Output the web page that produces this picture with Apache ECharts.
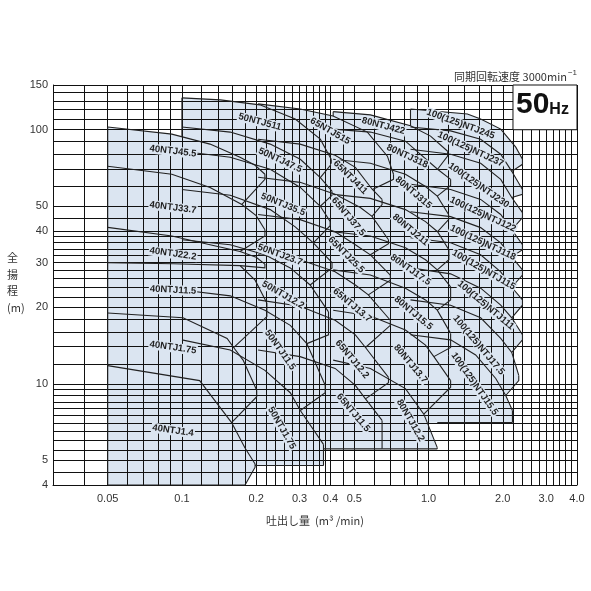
<!DOCTYPE html>
<html>
<head>
<meta charset="utf-8">
<script src="https://cdn.jsdelivr.net/npm/echarts@6/dist/echarts.min.js"></script>
<style>
  html, body { margin: 0; padding: 0; background: #fff; }
  #chart { width: 591px; height: 591px; }
</style>
</head>
<body>
<div id="chart"></div>
<script>
// grid lines and tick labels
const xGridValues = [0.03, 0.04, 0.05, 0.06, 0.07, 0.08, 0.09, 0.1, 0.12, 0.14, 0.16, 0.18, 0.2,
  0.22, 0.24, 0.26, 0.28, 0.3, 0.32, 0.34, 0.36, 0.38, 0.4, 0.45, 0.5, 0.6, 0.7, 0.8, 0.9, 1.0,
  1.2, 1.4, 1.6, 1.8, 2.0, 2.2, 2.4, 2.6, 2.8, 3.0, 3.2, 3.4, 3.6, 3.8, 4.0];
const yGridValues = [4, 4.5, 5, 5.5, 6, 6.5, 7, 7.5, 8, 8.5, 9, 9.5, 10, 12, 14, 16, 18, 20, 22, 24,
  26, 28, 30, 32, 34, 36, 38, 40, 45, 50, 60, 70, 80, 90, 100, 110, 120, 130, 140, 150];
const xTickLabels = [0.05, 0.1, 0.2, 0.3, 0.4, 0.5, 1.0, 2.0, 3.0, 4.0];
const yTickLabels = [4, 5, 10, 20, 30, 40, 50, 100, 150];

// 40NTJ : head curves [Q m3/min, H m], right limit lines, labels [name, Q, H, angle]
const curves40 = [
  [[0.05, 102.5], [0.091, 96.1], [0.13, 87.8], [0.172, 78], [0.198, 72.5], [0.217, 66.8]],
  [[0.05, 71.8], [0.091, 66.8], [0.13, 59.3], [0.175, 50.8], [0.2, 45.9], [0.217, 40.4]],
  [[0.05, 41.3], [0.091, 38.2], [0.13, 35.3], [0.172, 33.2], [0.2, 31.5], [0.217, 29.6]],
  [[0.05, 30], [0.092, 29.7], [0.172, 29.2], [0.198, 25.6], [0.221, 20.8]],
  [[0.05, 19], [0.101, 18.2], [0.1525, 15.1], [0.162, 13.9], [0.177, 12.4], [0.201, 9.43]],
  [[0.05, 11.8], [0.118, 10.3], [0.159, 7.04], [0.18, 5.61], [0.198, 4.84]]
];
const limits40 = [
  [[0.217, 63.8], [0.175, 50.8]],
  [[0.217, 38.2], [0.172, 33.2]],
  [[0.217, 28.6], [0.172, 29.2]],
  [[0.221, 18.4], [0.162, 13.9]],
  [[0.201, 8.9], [0.159, 7.04]],
  [[0.198, 4.7], [0.1803, 4]]
];
const labels40 = [
  ['40NTJ45.5', 0.092, 82.3, 7], ['40NTJ33.7', 0.092, 49.4, 7], ['40NTJ22.2', 0.092, 32.5, 8],
  ['40NTJ11.5', 0.092, 23.4, 3], ['40NTJ1.75', 0.092, 13.9, 8], ['40NTJ1.4', 0.092, 6.55, 8]
];

// 50NTJ
const curves50 = [
  [[0.1, 133.5], [0.143, 131.1], [0.207, 125.3], [0.288, 110.2], [0.364, 91.8], [0.403, 76.5]],
  [[0.1, 102.5], [0.157, 97.9], [0.228, 87.8], [0.302, 76.5], [0.364, 64.8], [0.406, 57.3]],
  [[0.1, 82.3], [0.157, 77.9], [0.228, 69.9], [0.302, 59.3], [0.364, 50], [0.399, 43.6]],
  [[0.1, 58.2], [0.157, 55.2], [0.228, 48.5], [0.288, 41.5], [0.341, 35.9], [0.406, 30]],
  [[0.1, 36.9], [0.157, 35.3], [0.217, 32.2], [0.275, 28.6], [0.331, 24.5], [0.393, 19.2]],
  [[0.1, 23.4], [0.157, 22.2], [0.217, 19.5], [0.275, 17], [0.321, 14.4], [0.381, 9.87]],
  [[0.1, 14.9], [0.157, 13.6], [0.217, 11.3], [0.275, 9.23], [0.302, 7.86], [0.375, 5.78]]
];
const limits50 = [
  [[0.403, 73.1], [0.364, 64.8]],
  [[0.406, 55.2], [0.364, 50]],
  [[0.399, 41.9], [0.341, 35.9]],
  [[0.406, 28.6], [0.331, 24.5]],
  [[0.393, 15.6], [0.321, 14.4]],
  [[0.381, 9.23], [0.302, 7.86]],
  [[0.375, 4.77]]
];
const labels50 = [
  ['50NTJ511', 0.207, 107.3, 15], ['50NTJ47.5', 0.25, 75.9, 25], ['50NTJ35.5', 0.257, 50.8, 22],
  ['50NTJ23.7', 0.25, 32.2, 20], ['50NTJ12.2', 0.257, 22.4, 30], ['50NTJ11.5', 0.25, 13.6, 55],
  ['50NTJ1.75', 0.254, 6.7, 60]
];

// 65NTJ
const curves65 = [
  [[0.2036, 126.4], [0.3015, 120.7], [0.41, 113.3], [0.565, 97.9], [0.681, 78.7], [0.721, 66.8]],
  [[0.2036, 91.8], [0.3015, 87.8], [0.418, 79.4], [0.505, 71.1], [0.592, 58.2], [0.648, 53.2]],
  [[0.2036, 65], [0.3015, 62.1], [0.418, 55.7], [0.529, 49.4], [0.59, 45.6], [0.688, 36.9]],
  [[0.2036, 46.4], [0.3015, 44.3], [0.418, 39.7], [0.505, 35.3], [0.581, 32.2], [0.7, 26.8]],
  [[0.2036, 32.2], [0.3015, 30.8], [0.418, 27.6], [0.505, 24.5], [0.57, 22.4], [0.7, 17.8]],
  [[0.2036, 21.4], [0.3015, 20.2], [0.418, 17.8], [0.505, 15.6], [0.555, 13.9], [0.688, 10.6]],
  [[0.2036, 13.6], [0.3015, 12.8], [0.418, 11.5], [0.505, 9.87], [0.555, 8.73], [0.648, 7.18]]
];
const limits65 = [
  [[0.721, 63.8], [0.592, 58.2]],
  [[0.648, 50.8], [0.59, 45.6]],
  [[0.688, 35.6], [0.581, 32.2]],
  [[0.7, 25.6], [0.57, 22.4]],
  [[0.7, 17], [0.555, 13.9]],
  [[0.688, 10.1], [0.555, 8.73]],
  [[0.648, 5.55]]
];
const labels65 = [
  ['65NTJ515', 0.399, 98.8, 30], ['65NTJ411', 0.482, 65, 45], ['65NTJ37.5', 0.473, 45.5, 50],
  ['65NTJ25.5', 0.464, 32.2, 45], ['65NTJ13.7', 0.49, 20.4, 40], ['65NTJ12.2', 0.49, 12.5, 50],
  ['65NTJ11.5', 0.495, 7.7, 50]
];

// 80NTJ
const curves80 = [
  [[0.4105, 117.8], [0.581, 114.4], [0.845, 103.7], [1.019, 94.4], [1.195, 82.3]],
  [[0.4105, 100.6], [0.581, 97.9], [0.806, 90.2], [1.088, 69.9], [1.229, 63.8]],
  [[0.4105, 76.5], [0.581, 73.8], [0.806, 66.8], [0.972, 59.8], [1.085, 54.8], [1.206, 46.4]],
  [[0.4105, 55.7], [0.581, 53.7], [0.806, 48.5], [0.972, 43.5], [1.088, 39.7], [1.209, 33.7]],
  [[0.4105, 39.7], [0.581, 38.2], [0.806, 34.3], [0.972, 30.8], [1.085, 28.1], [1.229, 24.1]],
  [[0.4105, 28.1], [0.581, 26.8], [0.806, 23.8], [0.972, 21.4], [1.085, 19.5], [1.229, 15.8]],
  [[0.4105, 19.5], [0.581, 18.5], [0.806, 16.3], [0.972, 14.2], [1.051, 12.8], [1.229, 10.3]],
  [[0.4105, 12.4], [0.581, 11.5], [0.806, 9.58], [0.957, 7.6], [1.085, 5.61]]
];
const limits80 = [
  [[1.195, 78.7], [1.088, 69.9]],
  [[1.229, 60.4], [1.085, 54.8]],
  [[1.206, 44.3], [1.088, 39.7]],
  [[1.209, 30.8], [1.085, 28.1]],
  [[1.229, 21.4], [1.085, 19.5]],
  [[1.229, 13.9], [1.051, 12.8]],
  [[1.229, 9.7], [0.957, 7.6]],
  [[1.085, 5.55]]
];
const labels80 = [
  ['80NTJ422', 0.656, 103.5, 15], ['80NTJ318', 0.82, 78.7, 25], ['80NTJ315', 0.868, 56.6, 40],
  ['80NTJ211', 0.845, 40.4, 40], ['80NTJ17.5', 0.845, 28.1, 35], ['80NTJ15.5', 0.868, 19, 40],
  ['80NTJ13.7', 0.845, 12, 50], ['80NTJ12.2', 0.845, 7.18, 60]
];

// 100(125)NTJ
const curves100 = [
  [[0.845, 120.7], [1.437, 115.4], [1.627, 110.2], [1.962, 100.6], [2.258, 85.4], [2.404, 76.5]],
  [[0.845, 102.5], [1.229, 99], [1.627, 91.8], [1.962, 80.1], [2.175, 68.6], [2.404, 58.2]],
  [[0.845, 83.8], [1.229, 80.1], [1.627, 73.8], [1.962, 63.8], [2.175, 54.1], [2.404, 47.2]],
  [[0.845, 61], [1.229, 58.2], [1.627, 53.2], [1.962, 46.4], [2.175, 40.4], [2.404, 35.3]],
  [[0.845, 47.6], [1.229, 45.5], [1.627, 41.2], [1.962, 35.9], [2.175, 31.6], [2.404, 28.1]],
  [[0.845, 37.6], [1.229, 35.9], [1.627, 32.2], [1.962, 27.6], [2.175, 24], [2.404, 21.4]],
  [[0.845, 28.6], [1.229, 27.1], [1.627, 23.8], [1.962, 20.4], [2.175, 18.2], [2.404, 15.6]],
  [[0.845, 21.4], [1.229, 20.4], [1.627, 18.2], [1.962, 15.1], [2.175, 13.3], [2.322, 10.8]],
  [[0.845, 15.6], [1.229, 14.9], [1.553, 13], [1.873, 10.5], [2.056, 9], [2.189, 7.86]]
];
const limits100 = [
  [[2.404, 73.1], [2.175, 68.6]],
  [[2.404, 55.7], [2.175, 54.1]],
  [[2.404, 45.1], [2.175, 40.4]],
  [[2.404, 33.7], [2.175, 31.6]],
  [[2.404, 26.8], [2.175, 24]],
  [[2.404, 20.4], [2.175, 18.2]],
  [[2.404, 14.9], [2.175, 13.3]],
  [[2.322, 10.3], [2.056, 9]],
  [[2.189, 7.04]]
];
const labels100 = [
  ['100(125)NTJ245', 1.349, 105.3, 20], ['100(125)NTJ237', 1.482, 83.8, 25], ['100(125)NTJ230', 1.597, 60.4, 35],
  ['100(125)NTJ122', 1.66, 46.4, 25], ['100(125)NTJ118', 1.66, 35.9, 25], ['100(125)NTJ115', 1.673, 28.1, 30],
  ['100(125)NTJ111', 1.705, 20.4, 40], ['100(125)NTJ17.5', 1.597, 14.2, 50], ['100(125)NTJ15.5', 1.537, 10, 55]
];

// bottom head of each family, lowest head of its visible left edge, start of its visible bottom edge
const families = [
  { curves: curves40, limits: limits40, bottom: 4, edgeTo: 4, bottomFrom: 0.05 },
  { curves: curves50, limits: limits50, bottom: 4.77, edgeTo: 94, bottomFrom: 0.198 },
  { curves: curves65, limits: limits65, bottom: 5.55, edgeTo: 125, bottomFrom: 0.375 },
  { curves: curves80, limits: limits80, bottom: 5.55, edgeTo: 113.3, bottomFrom: 0.648 },
  { curves: curves100, limits: limits100, bottom: 7.04, edgeTo: 103.7, bottomFrom: 1.085 }
];
const allLabels = [].concat(labels40, labels50, labels65, labels80, labels100);

// build region polygons and outline polylines from the curves
const regions = [];
const outlines = [];
families.forEach(function (fam) {
  const cs = fam.curves;
  const q0 = cs[0][0][0];
  cs.forEach(function (c, k) {
    const lim = fam.limits[k];
    const join = lim[lim.length - 1];
    const lower = k + 1 < cs.length ? cs[k + 1] : [[c[0][0], fam.bottom]];
    const part = lower.filter(function (p) { return p[0] < join[0] - 1e-9; }).reverse();
    regions.push(c.concat(lim, part));
    outlines.push(c);
    outlines.push([c[c.length - 1]].concat(lim));
  });
  const last = fam.limits[fam.limits.length - 1];
  outlines.push([[q0, cs[0][0][1]], [q0, fam.edgeTo]]);
  outlines.push([[fam.bottomFrom, fam.bottom], last[last.length - 1]]);
});

const chart = echarts.init(document.getElementById('chart'), null, { renderer: 'canvas' });
const FILL = '#dbe5f1';

function polyItem(list, fill) {
  return function (params, api) {
    const pts = list[api.value(2)].map(function (p) { return api.coord(p); });
    if (fill) {
      return { type: 'polygon', shape: { points: pts }, style: { fill: FILL, stroke: FILL, lineWidth: 0.5 } };
    }
    return { type: 'polyline', shape: { points: pts }, style: { stroke: '#222', lineWidth: 1.1, fill: null } };
  };
}

const option = {
  animation: false,
  grid: { left: 53, top: 85, width: 524, height: 400 },
  xAxis: {
    type: 'log', logBase: 10, min: 0.03, max: 4, z: 3,
    axisLine: { show: true, lineStyle: { color: '#111', width: 1 } },
    axisTick: { show: false, customValues: xGridValues },
    splitLine: { show: true, lineStyle: { color: '#111', width: 1 } },
    axisLabel: {
      customValues: xTickLabels, color: '#333', fontSize: 11, margin: 8,
      fontFamily: 'Liberation Sans',
      formatter: function (v) { return v >= 1 ? v.toFixed(1) : String(v); }
    },
    name: '吐出し量  (m³ /min)', nameLocation: 'middle', nameGap: 30,
    nameTextStyle: { color: '#333', fontSize: 11, fontFamily: 'Noto Sans CJK JP' }
  },
  yAxis: {
    type: 'log', logBase: 10, min: 4, max: 150, z: 3,
    axisLine: { show: true, lineStyle: { color: '#111', width: 1 } },
    axisTick: { show: false, customValues: yGridValues },
    splitLine: { show: true, lineStyle: { color: '#111', width: 1 } },
    axisLabel: { customValues: yTickLabels, color: '#333', fontSize: 11, margin: 5, fontFamily: 'Liberation Sans' }
  },
  series: [
    {
      type: 'custom', name: 'regions', z: 1, silent: true,
      data: regions.map(function (r, i) { return [r[0][0], r[0][1], i]; }),
      renderItem: polyItem(regions, true)
    },
    {
      type: 'custom', name: 'outlines', z: 5, silent: true,
      data: outlines.map(function (r, i) { return [r[0][0], r[0][1], i]; }),
      renderItem: polyItem(outlines, false)
    },
    {
      type: 'custom', name: 'labels', z: 6, silent: true,
      data: allLabels.map(function (l) { return [l[1], l[2], l[3]]; }),
      renderItem: function (params, api) {
        const p = api.coord([api.value(0), api.value(1)]);
        return {
          type: 'text', x: p[0], y: p[1], rotation: -api.value(2) * Math.PI / 180,
          style: {
            text: allLabels[params.dataIndex][0], fill: '#1e1e1e',
            font: 'bold 9.5px "Liberation Sans"', align: 'center', verticalAlign: 'middle',
            backgroundColor: FILL, padding: [0, 1]
          }
        };
      }
    }
  ]
};
chart.setOption(option);

// 50Hz box, speed note and vertical axis title
const boxA = chart.convertToPixel({ gridIndex: 0 }, [2.2, 150]);
const boxB = chart.convertToPixel({ gridIndex: 0 }, [4.0, 100]);
chart.setOption({
  graphic: [
    {
      type: 'rect', z: 10,
      shape: { x: boxA[0], y: boxA[1], width: boxB[0] - boxA[0], height: boxB[1] - boxA[1] },
      style: { fill: '#fff', stroke: '#111', lineWidth: 1 }
    },
    {
      type: 'text', z: 11, left: boxA[0] + 3, top: boxA[1] + 5,
      style: {
        text: '{a|50}{b|Hz}',
        rich: {
          a: { font: 'bold 30px "Liberation Sans"', fill: '#111' },
          b: { font: 'bold 16px "Liberation Sans"', fill: '#111', padding: [9, 0, 0, 0] }
        }
      }
    },
    {
      type: 'text', z: 11, right: 14, top: 69,
      style: {
        text: '{c|同期回転速度 3000min}{s|−1}',
        rich: {
          c: { font: '11px "Noto Sans CJK JP"', fill: '#333' },
          s: { font: '8px "Liberation Sans"', fill: '#333', padding: [0, 0, 7, 1] }
        }
      }
    },
    {
      type: 'text', z: 11, left: 7, top: 250,
      style: { text: '全\n揚\n程\n(m)', font: '11px "Noto Sans CJK JP"', fill: '#333', lineHeight: 16.5, align: 'left' }
    }
  ]
});
</script>
</body>
</html>
